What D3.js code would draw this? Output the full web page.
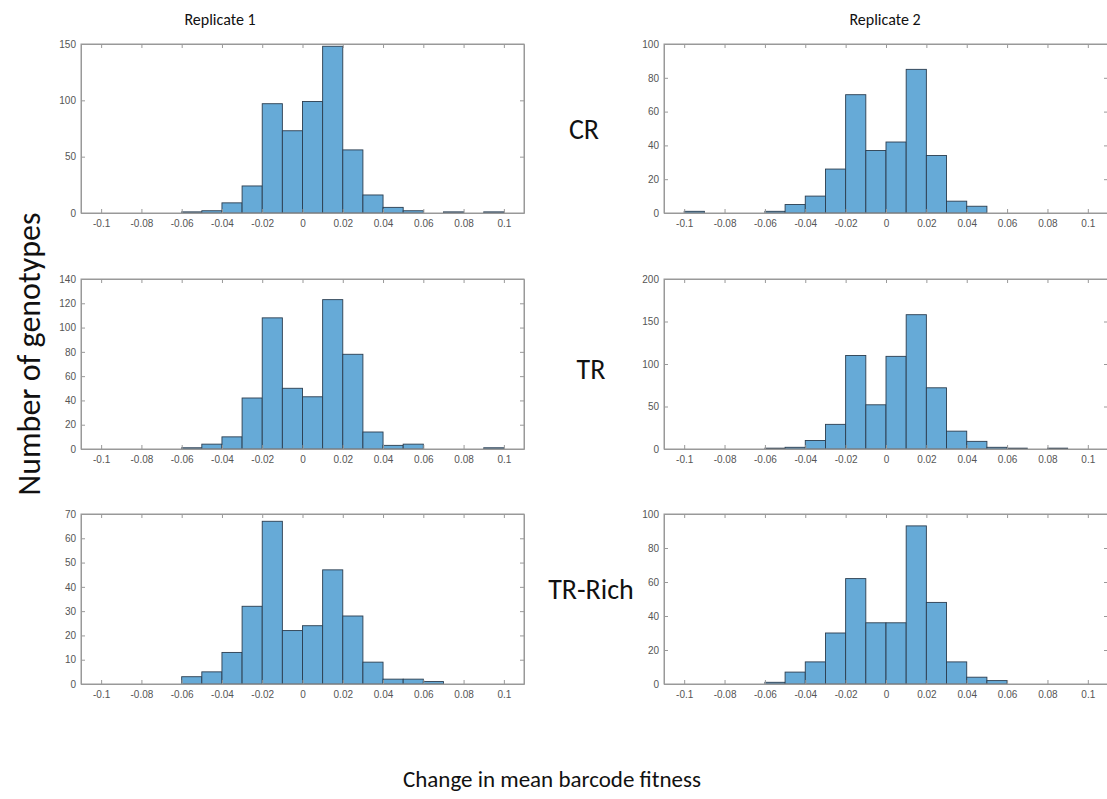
<!DOCTYPE html>
<html>
  <head>
    <meta charset="utf-8">
    <title>Change in mean barcode fitness</title>
    <script src="https://cdn.jsdelivr.net/npm/d3@7"></script>
    <style>
      body { margin: 0; background: #fff; }
      .axis text { font-family: "Liberation Sans", Arial, sans-serif; font-size: 10px; fill: #555; }
      .axis line, .axis path { stroke: #999; }
      .lab { font-family: Carlito, Lato, "Open Sans", sans-serif; fill: #111; }
    </style>
  </head>
  <body>
    <script>

// bins are 0.01 wide, left edges
var binStarts = [-0.1, -0.09, -0.08, -0.07, -0.06, -0.05, -0.04, -0.03, -0.02, -0.01,
                 0, 0.01, 0.02, 0.03, 0.04, 0.05, 0.06, 0.07, 0.08, 0.09];

// counts, one per bin
var crRep1   = [0, 0, 0, 0, 1, 2, 9, 24, 97, 73, 99, 148, 56, 16, 5, 2, 0, 1, 0, 1];
var crRep2   = [1, 0, 0, 0, 1, 5, 10, 26, 70, 37, 42, 85, 34, 7, 4, 0, 0, 0, 0, 0];
var trRep1   = [0, 0, 0, 0, 1, 4, 10, 42, 108, 50, 43, 123, 78, 14, 3, 4, 0, 0, 0, 1];
var trRep2   = [0, 0, 0, 0, 1, 2, 10, 29, 110, 52, 109, 158, 72, 21, 9, 2, 1, 0, 1, 0];
var richRep1 = [0, 0, 0, 0, 3, 5, 13, 32, 67, 22, 24, 47, 28, 9, 2, 2, 1, 0, 0, 0];
var richRep2 = [0, 0, 0, 0, 1, 7, 13, 30, 62, 36, 36, 93, 48, 13, 4, 2, 0, 0, 0, 0];

var xTicks = [-0.1, -0.08, -0.06, -0.04, -0.02, 0, 0.02, 0.04, 0.06, 0.08, 0.1];
var conditions = ["CR", "TR", "TR-Rich"];
var replicates = ["Replicate 1", "Replicate 2"];

// y axis ticks per panel (row, then column)
var yTicks = [
  [[0, 50, 100, 150], [0, 20, 40, 60, 80, 100]],
  [[0, 20, 40, 60, 80, 100, 120, 140], [0, 50, 100, 150, 200]],
  [[0, 10, 20, 30, 40, 50, 60, 70], [0, 20, 40, 60, 80, 100]]
];
var counts = [
  [crRep1, crRep2],
  [trRep1, trRep2],
  [richRep1, richRep2]
];

var w = 1107, h = 799;
var colX = [[81, 524], [664, 1108]];
var rowY = [[44, 213], [279, 449], [514, 684]];

var svg = d3.select("body").append("svg")
  .attr("width", w)
  .attr("height", h);

var fmt = function(d){ return d === 0 ? "0" : String(d); };

for (var r = 0; r < 3; r++) {
  for (var c = 0; c < 2; c++) {
    var x = d3.scaleLinear().domain([-0.11, 0.11]).range(colX[c]);
    var yt = yTicks[r][c];
    var y = d3.scaleLinear().domain([0, yt[yt.length - 1]]).range([rowY[r][1], rowY[r][0]]);
    var g = svg.append("g");
    var data = counts[r][c];

    // bars (skip empty bins)
    g.selectAll("rect.bar")
      .data(binStarts.map(function(b, i){ return {x0: b, v: data[i]}; })
                     .filter(function(d){ return d.v > 0; }))
      .enter()
      .append("rect")
      .attr("class", "bar")
      .attr("x", function(d){ return x(d.x0); })
      .attr("width", function(d){ return x(d.x0 + 0.01) - x(d.x0); })
      .attr("y", function(d){ return y(d.v); })
      .attr("height", function(d){ return y(0) - y(d.v); })
      .attr("fill", "#66aad7")
      .attr("stroke", "#2b3d4f")
      .attr("stroke-width", 0.9);

    // box
    g.append("rect")
      .attr("x", colX[c][0]).attr("y", rowY[r][0])
      .attr("width", colX[c][1] - colX[c][0])
      .attr("height", rowY[r][1] - rowY[r][0])
      .attr("fill", "none").attr("stroke", "#999");

    // axes, MATLAB style ticks pointing in
    g.append("g").attr("class", "axis")
      .attr("transform", "translate(0," + rowY[r][1] + ")")
      .call(d3.axisBottom(x).tickValues(xTicks).tickFormat(fmt)
            .tickSizeInner(-4).tickSizeOuter(0).tickPadding(7));
    g.append("g").attr("class", "axis")
      .attr("transform", "translate(0," + rowY[r][0] + ")")
      .call(d3.axisTop(x).tickValues(xTicks).tickFormat("")
            .tickSizeInner(-4).tickSizeOuter(0));
    g.append("g").attr("class", "axis")
      .attr("transform", "translate(" + colX[c][0] + ",0)")
      .call(d3.axisLeft(y).tickValues(yt).tickFormat(fmt)
            .tickSizeInner(-4).tickSizeOuter(0).tickPadding(5));
    g.append("g").attr("class", "axis")
      .attr("transform", "translate(" + colX[c][1] + ",0)")
      .call(d3.axisRight(y).tickValues(yt).tickFormat("")
            .tickSizeInner(-4).tickSizeOuter(0));
  }
}

// titles and labels
svg.selectAll("text.rep")
  .data(replicates)
  .enter()
  .append("text")
  .attr("class", "lab rep")
  .attr("x", function(d, i){ return i === 0 ? 220 : 885; })
  .attr("y", 25)
  .attr("text-anchor", "middle")
  .attr("font-size", 16)
  .text(function(d){ return d; });

svg.selectAll("text.cond")
  .data(conditions)
  .enter()
  .append("text")
  .attr("class", "lab cond")
  .attr("x", function(d, i){ return i === 0 ? 584 : 591; })
  .attr("y", function(d, i){ return [139, 379, 599][i]; })
  .attr("text-anchor", "middle")
  .attr("font-size", 28)
  .text(function(d){ return d; });

svg.append("text")
  .attr("class", "lab")
  .attr("transform", "translate(40,354) rotate(-90)")
  .attr("text-anchor", "middle")
  .attr("font-size", 32)
  .text("Number of genotypes");

svg.append("text")
  .attr("class", "lab")
  .attr("x", 552)
  .attr("y", 787)
  .attr("text-anchor", "middle")
  .attr("font-size", 23)
  .text("Change in mean barcode fitness");

    </script>
  </body>
</html>
